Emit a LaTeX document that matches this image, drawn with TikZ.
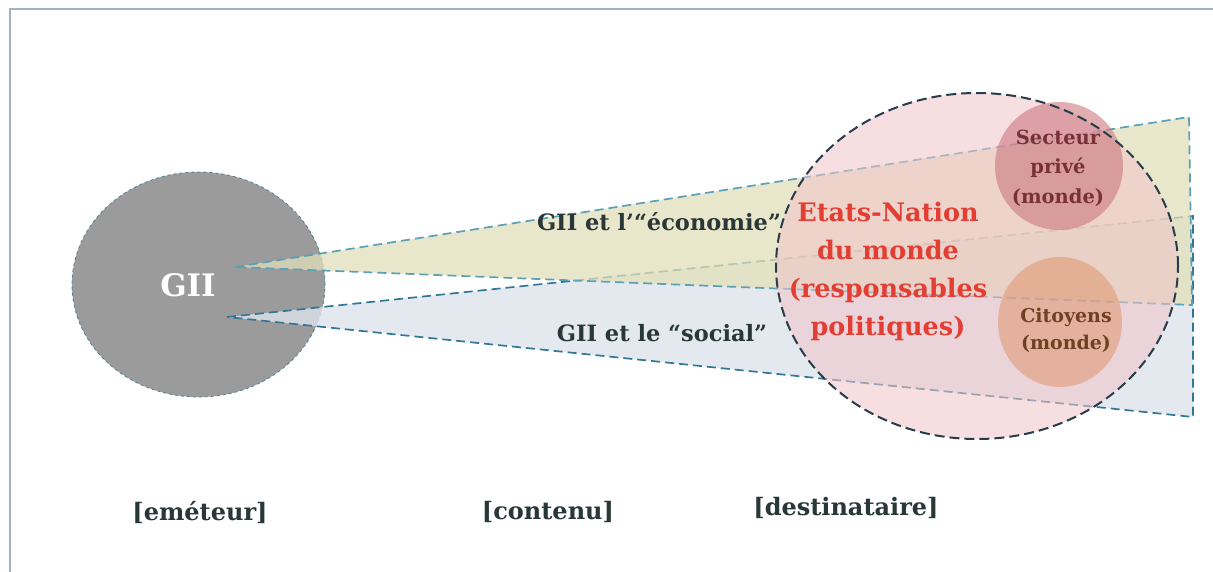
\documentclass[tikz,border=0pt]{standalone}
\usepackage{fontspec}
\setmainfont{DejaVu Serif}
\usepackage{tikz}
\usetikzlibrary{shapes.geometric}
\definecolor{framec}{RGB}{160,178,196}
\definecolor{giifill}{RGB}{155,155,155}
\definecolor{giiline}{RGB}{80,130,150}
\definecolor{ecofill}{RGB}{226,224,186}
\definecolor{socfill}{RGB}{222,228,236}
\definecolor{ecoline}{RGB}{90,160,185}
\definecolor{socline}{RGB}{50,120,150}
\definecolor{bigfill}{RGB}{242,196,200}
\definecolor{bigline}{RGB}{40,60,75}
\definecolor{secfill}{RGB}{205,120,128}
\definecolor{citfill}{RGB}{222,150,110}
\definecolor{darktext}{RGB}{40,55,55}
\definecolor{redtext}{RGB}{226,62,52}
\definecolor{sectext}{RGB}{120,50,55}
\definecolor{cittext}{RGB}{110,65,35}
\tikzset{
  wedgeedge/.style={line width=1.7pt, dash pattern=on 9pt off 5pt},
  lbl/.style={font=\bfseries\fontsize{24}{30}\selectfont, text=darktext, inner sep=0pt},
  midlbl/.style={font=\bfseries\fontsize{22.5}{26}\selectfont, text=darktext, inner sep=0pt},
}
\begin{document}
\begin{tikzpicture}[x=1pt,y=-1pt]
\useasboundingbox (0,0) rectangle (1213,572);
\fill[white] (0,0) rectangle (1213,572);
% frame
\draw[framec, line width=2pt] (10,572) coordinate (fbl) -- (10,9) coordinate (ftl) -- (1213,9) coordinate (ftr);
% emitter circle
\node[ellipse, draw=giiline, fill=giifill, dashed, line width=0.8pt, minimum width=253pt, minimum height=225pt, inner sep=0pt] (gii) at (198.5,284.5) {};
% wedges
\coordinate (sa) at (227,317);
\coordinate (st) at (1193,216);
\coordinate (sb) at (1193,417);
\coordinate (ea) at (235,267);
\coordinate (et) at (1189,117);
\coordinate (eb) at (1192,305);
\fill[socfill, opacity=0.8] (sa) -- (st) -- (sb) -- cycle;
\draw[wedgeedge, draw=socline] (sa) -- (st) -- (sb) -- cycle;
\fill[ecofill, opacity=0.75] (ea) -- (et) -- (eb) -- cycle;
\draw[wedgeedge, draw=ecoline] (ea) -- (et) -- (eb) -- cycle;
% receiver circle
\node[ellipse, fill=bigfill, fill opacity=0.55, minimum width=402pt, minimum height=346pt, inner sep=0pt] (dest) at (977,266) {};
\node[circle, fill=secfill, fill opacity=0.6, minimum size=128pt, inner sep=0pt] (sec) at (1059,166) {};
\node[ellipse, fill=citfill, fill opacity=0.55, minimum width=124pt, minimum height=130pt, inner sep=0pt] (cit) at (1060,322) {};
\draw[bigline, line width=2pt, dash pattern=on 10pt off 5pt] (dest.center) ellipse (201pt and 173pt);
% texts
\node[font=\bfseries\fontsize{31}{36}\selectfont, text=white, inner sep=0pt] (giit) at (188,285) {GII};
\node[midlbl] (eco) at (659,222) {GII et l'“économie”};
\node[midlbl] (soc) at (662,333) {GII et le “social”};
\node[font=\bfseries\fontsize{25.5}{38}\selectfont, text=redtext, align=center, inner sep=0pt] (etat) at (888,271) {Etats-Nation\\du monde\\(responsables\\politiques)};
\node[font=\bfseries\fontsize{19.5}{29.5}\selectfont, text=sectext, align=center, inner sep=0pt] (sect) at (1058,168) {Secteur\\privé\\(monde)};
\node[font=\bfseries\fontsize{19}{27}\selectfont, text=cittext, align=center, inner sep=0pt] (citt) at (1066,330) {Citoyens\\(monde)};
\node[lbl] (em) at (200,512) {[eméteur]};
\node[lbl] (co) at (548,512) {[contenu]};
\node[lbl] (de) at (846,508) {[destinataire]};
\end{tikzpicture}
\end{document}
